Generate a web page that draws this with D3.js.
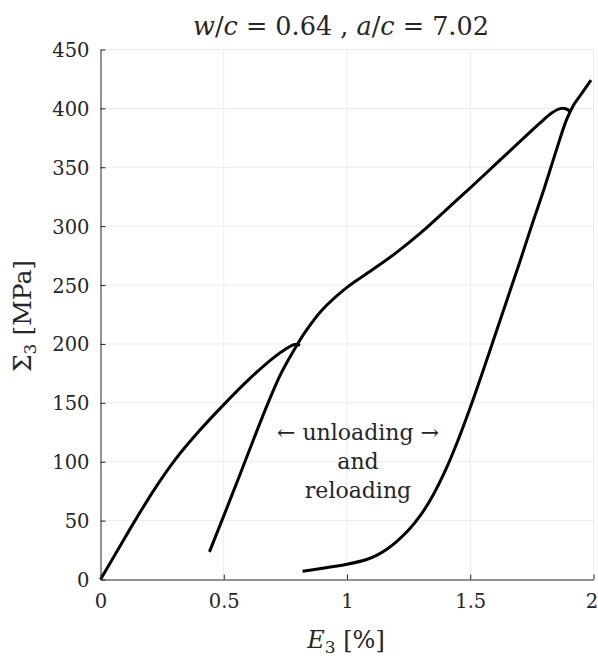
<!DOCTYPE html>
<html>
<head>
<meta charset="utf-8">
<script src="https://cdn.jsdelivr.net/npm/d3@7"></script>
<style>
  html, body { margin: 0; padding: 0; background: #fff; }
  svg text { font-family: "DejaVu Serif", "Liberation Serif", serif; fill: #262626; }
</style>
</head>
<body>
<svg id="chart" width="598" height="660"></svg>
<script>
// Primeira carga ate ~200 MPa
const load1E = [0, 0.07, 0.14, 0.22, 0.3, 0.4, 0.5, 0.6, 0.7, 0.75, 0.787, 0.81];
const load1S = [0, 25, 50, 77, 101, 126, 148.5, 169.5, 188, 195.5, 199.5, 199];

// Descarga/recarga 1 e carga ate ~400 MPa
const cycle1E = [0.442, 0.5, 0.56, 0.62, 0.68, 0.73, 0.78, 0.83, 0.9, 1.0, 1.1,
                 1.2, 1.3, 1.4, 1.5, 1.6, 1.7, 1.78, 1.83, 1.865, 1.89, 1.909];
const cycle1S = [23.5, 54, 86, 118.5, 150, 174, 193, 210, 229, 248, 262.5,
                 277.5, 294.5, 313.5, 332.5, 352, 371.5, 387, 396, 399.8, 399.5, 396.7];

// Descarga/recarga 2
const cycle2E = [0.82, 0.9, 1.0, 1.08, 1.12, 1.16, 1.2, 1.25, 1.3, 1.35, 1.4, 1.45,
                 1.5, 1.55, 1.6, 1.65, 1.7, 1.75, 1.8, 1.85, 1.89, 1.92, 1.95, 1.99];
const cycle2S = [7, 9.5, 13, 17, 20.5, 25.5, 32, 42, 55, 72, 93, 118,
                 146, 176, 207, 238, 269, 301, 332, 365, 390, 403, 412, 424];

const xTicks = [0, 0.5, 1, 1.5, 2];
const yTicks = [0, 50, 100, 150, 200, 250, 300, 350, 400, 450];

const series = [
    { e: load1E, s: load1S },
    { e: cycle1E, s: cycle1S },
    { e: cycle2E, s: cycle2S }
];

const svg = d3.select('#chart');
const x = d3.scaleLinear().domain([0, 2]).range([100.5, 593.5]);
const y = d3.scaleLinear().domain([0, 450]).range([579.5, 49.5]);

// grade
const grid = svg.append('g').attr('class', 'grid');
grid.selectAll('.gx').data(xTicks.slice(1)).enter().append('line')
    .attr('x1', d => x(d)).attr('x2', d => x(d))
    .attr('y1', y(0)).attr('y2', y(450))
    .attr('stroke', '#ebebeb').attr('stroke-width', 1);
grid.selectAll('.gy').data(yTicks.slice(1)).enter().append('line')
    .attr('x1', x(0)).attr('x2', x(2))
    .attr('y1', d => y(d)).attr('y2', d => y(d))
    .attr('stroke', '#ebebeb').attr('stroke-width', 1);

// curvas
const line = d3.line()
    .x(d => x(d[0]))
    .y(d => y(d[1]))
    .curve(d3.curveCatmullRom.alpha(0.5));

series.forEach(sr => {
    const pts = sr.e.map((v, i) => [v, sr.s[i]]);
    svg.append('path')
        .datum(pts)
        .attr('d', line)
        .attr('fill', 'none')
        .attr('stroke', '#000')
        .attr('stroke-width', 3)
        .attr('stroke-linejoin', 'round');
});

// eixos (ticks para dentro)
const xAxis = d3.axisBottom(x).tickValues(xTicks).tickSize(-5).tickPadding(11)
    .tickFormat(d => d3.format('')(d)).tickSizeOuter(0);
const yAxis = d3.axisLeft(y).tickValues(yTicks).tickSize(-5).tickPadding(11).tickSizeOuter(0);

const gx = svg.append('g').attr('transform', `translate(0,${y(0)})`).call(xAxis);
const gy = svg.append('g').attr('transform', `translate(${x(0)},0)`).call(yAxis);

[gx, gy].forEach(g => {
    g.select('.domain').attr('stroke', '#262626').attr('stroke-width', 1);
    g.selectAll('.tick line').attr('stroke', '#262626').attr('stroke-width', 1);
    g.selectAll('.tick text')
        .style('font-family', '"DejaVu Serif", serif')
        .style('font-size', '19.5px')
        .attr('fill', '#262626');
});
gx.selectAll('.tick text').attr('dy', '0.71em').attr('y', 15);
// o ultimo rotulo encosta na borda: puxa um pouco para dentro
gx.selectAll('.tick text').filter(d => d === 2).attr('x', -2);
gy.selectAll('.tick text').attr('dy', '0.36em');

// titulo
const title = svg.append('text')
    .attr('x', 341).attr('y', 35)
    .attr('text-anchor', 'middle')
    .style('font-size', '25.5px');
title.append('tspan').style('font-style', 'italic').text('w');
title.append('tspan').text('/');
title.append('tspan').style('font-style', 'italic').text('c');
title.append('tspan').text(' = 0.64 , ');
title.append('tspan').style('font-style', 'italic').text('a');
title.append('tspan').text('/');
title.append('tspan').style('font-style', 'italic').text('c');
title.append('tspan').text(' = 7.02');

// rotulo x
const xl = svg.append('text')
    .attr('x', 346).attr('y', 648)
    .attr('text-anchor', 'middle')
    .style('font-size', '24px');
xl.append('tspan').style('font-style', 'italic').text('E');
xl.append('tspan').attr('dy', 5).style('font-size', '17px').text('3');
xl.append('tspan').attr('dy', -5).text(' [%]');

// rotulo y
const yl = svg.append('text')
    .attr('transform', `translate(31,316) rotate(-90)`)
    .attr('text-anchor', 'middle')
    .style('font-size', '25px');
yl.append('tspan').text('Σ');
yl.append('tspan').attr('dy', 5).style('font-size', '17px').text('3');
yl.append('tspan').attr('dy', -5).text(' [MPa]');

// anotacao
const notes = ['← unloading →', 'and', 'reloading'];
svg.append('g').selectAll('text').data(notes).enter().append('text')
    .attr('x', 358)
    .attr('y', (d, i) => 440 + i * 29)
    .attr('text-anchor', 'middle')
    .style('font-size', '22px')
    .text(d => d);
</script>
</body>
</html>
